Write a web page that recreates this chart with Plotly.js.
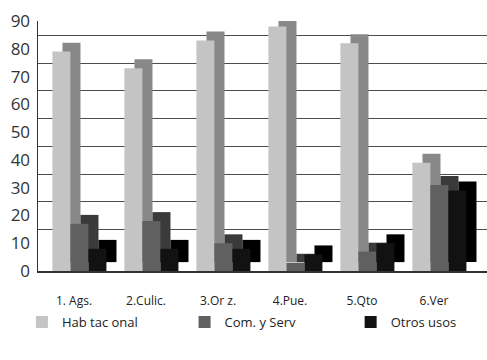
<!DOCTYPE html>
<html><head><meta charset="utf-8">
<script src="https://cdn.plot.ly/plotly-3.0.1.min.js"></script>
<style>html,body{margin:0;padding:0;background:#fff}#chart{width:487px;height:360px}</style>
</head><body><div id="chart"></div>
<script>
const categories = ['1. Ags.', '2.Culic.', '3.Or z.', '4.Pue.', '5.Qto', '6.Ver'];
const habitacional = [79, 73, 83, 88, 82, 39];
const comServ = [17, 18, 10, 3, 7, 31];
const otrosUsos = [8, 8, 8, 6, 10, 29];
const seriesNames = ['Hab tac onal', 'Com. y Serv', 'Otros usos'];
const yTickVals = [0, 10, 20, 30, 40, 50, 60, 70, 80, 90];
const gridTickVals = [10, 20, 30, 40, 50, 60, 70, 80];

const series = [habitacional, comServ, otrosUsos];
const frontColors = ['#c4c4c4', '#606060', '#121212'];
const sideColors = ['#888888', '#3a3a3a', '#000000'];
const legendIds = ['legend', 'legend2', 'legend3'];
const barW = 0.25;
const offsets = [-0.3, -0.05, 0.2];
const depthX = 0.14;   // category units
const depthY = 3.2;    // value units
const wallShift = 4.86; // back wall is this many value units higher than the front axis
const FONT = 'Open Sans, Noto Sans, sans-serif';

const traces = [];
// invisible trace for the back-wall grid (overlaid axes)
traces.push({type: 'scatter', x: [], y: [], xaxis: 'x2', yaxis: 'y2', showlegend: false, hoverinfo: 'skip'});
// side/top faces
series.forEach((vals, i) => {
  traces.push({
    type: 'bar', x: categories, y: vals, base: depthY,
    offset: offsets[i] + depthX, width: barW,
    marker: {color: sideColors[i], line: {width: 0}},
    xaxis: 'x', yaxis: 'y', showlegend: false, hoverinfo: 'skip'
  });
});
// front faces
series.forEach((vals, i) => {
  traces.push({
    type: 'bar', x: categories, y: vals, name: seriesNames[i],
    offset: offsets[i], width: barW, legend: legendIds[i],
    marker: {color: frontColors[i], line: {width: 0}},
    xaxis: 'x', yaxis: 'y'
  });
});

function legendAt(xFrac) {
  return {orientation: 'h', xref: 'container', yref: 'container', x: xFrac, y: 0.1056,
          xanchor: 'left', yanchor: 'middle', bgcolor: 'rgba(0,0,0,0)',
          font: {family: FONT, size: 13, color: '#222'}};
}

const layout = {
  width: 487, height: 360,
  margin: {l: 38, r: 0, t: 21, b: 89},
  paper_bgcolor: '#ffffff', plot_bgcolor: 'rgba(0,0,0,0)',
  barmode: 'overlay',
  font: {family: FONT, color: '#2a2a2a'},
  xaxis: {domain: [0, 1], anchor: 'y', type: 'category', categoryarray: categories,
          range: [-0.5, 5.5 + 17 / 72], showline: true, linecolor: '#333', linewidth: 1.5, showgrid: false,
          zeroline: false, ticks: '', ticklabelstandoff: 18,
          tickfont: {family: FONT, size: 12, color: '#222'}, fixedrange: true},
  yaxis: {domain: [0, 1], anchor: 'x', range: [0, 90], tickvals: yTickVals,
          showgrid: false, zeroline: false, showline: true, linecolor: '#333', linewidth: 1.5,
          ticks: '', ticklabelstandoff: 3,
          tickfont: {family: FONT, size: 17, color: '#333'}, fixedrange: true},
  xaxis2: {overlaying: 'x', range: [0, 1], showgrid: false, zeroline: false,
           showticklabels: false, showline: false, anchor: 'y2', fixedrange: true},
  yaxis2: {overlaying: 'y', anchor: 'x2', range: [-wallShift, 90 - wallShift], tickvals: gridTickVals,
           showgrid: true, gridcolor: '#4d4d4d', gridwidth: 1,
           zeroline: false, showticklabels: false, showline: false, ticks: '', fixedrange: true},
  legend: legendAt(0.045),
  legend2: legendAt(0.379),
  legend3: legendAt(0.72),
  showlegend: true
};

Plotly.newPlot('chart', traces, layout, {displayModeBar: false, staticPlot: true});
</script>
</body></html>
